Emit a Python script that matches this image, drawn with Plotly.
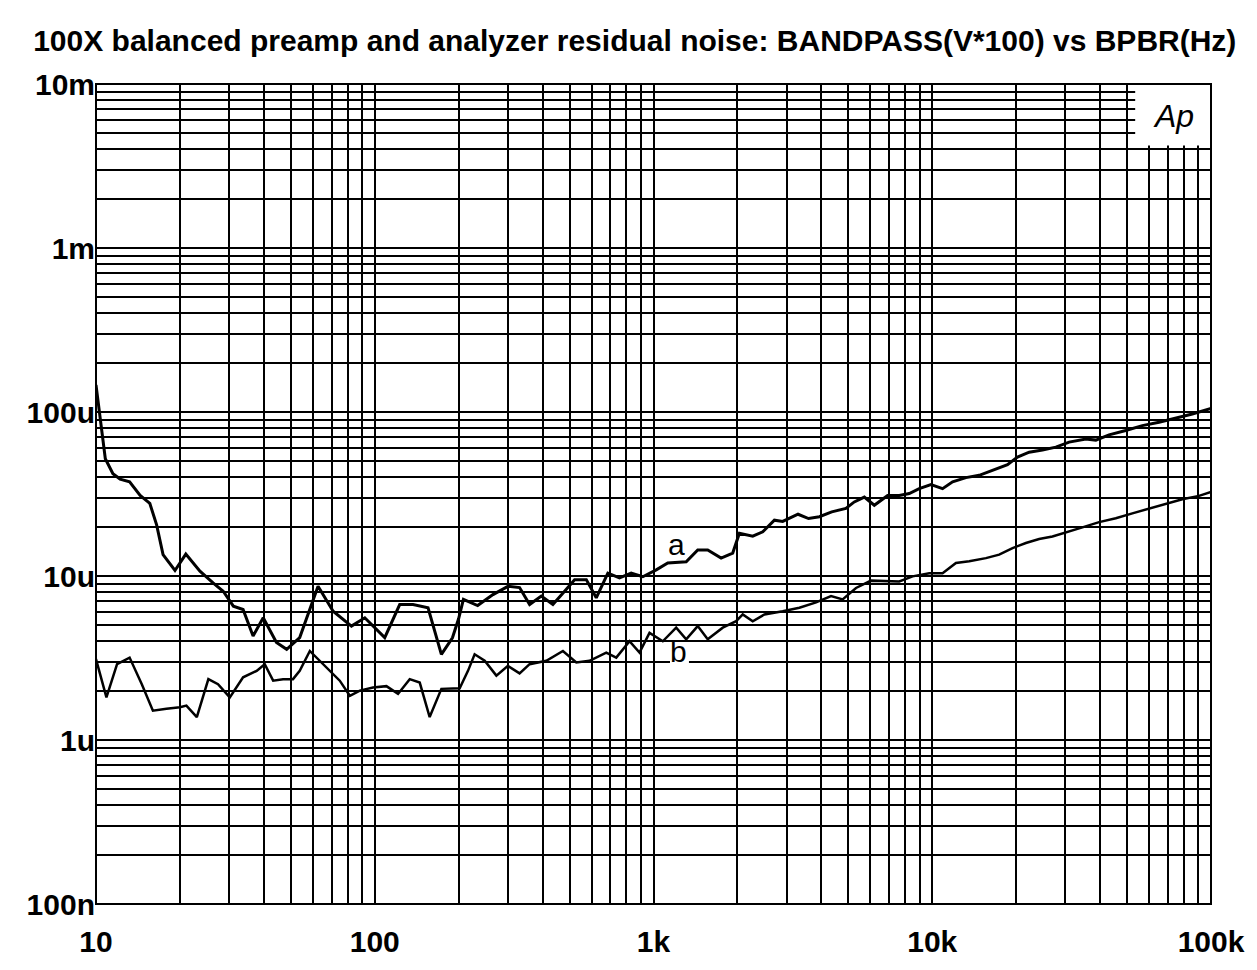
import plotly.graph_objects as go

# Curve a (Hz, V)
freq_a = [10, 10.3, 10.8, 11.5, 12.2, 13.2, 14.4, 15.6, 16.5, 17.4, 19.2, 21.0, 23.6, 26.3, 28.6,
          31.1, 33.7, 36.6, 39.8, 44.4, 48.3, 53.8, 62.6, 70.9, 82.5, 92.1, 108.6, 122.9, 137.2,
          155.3, 173.4, 190, 200, 208, 234, 265.5, 300.5, 330.8, 359.4, 395.8, 435.6, 479.8,
          521.2, 574.1, 623.2, 685.9, 755.2, 831.8, 915.5, 1023, 1125, 1310, 1441, 1565, 1748,
          1924, 2033, 2270, 2466, 2715, 2907, 3300, 3600, 3936, 4360, 4900, 5253, 5705, 6196,
          6916, 7614, 8271, 8982, 9893, 10890, 11830, 13210, 14740, 16450, 18620, 20220, 22270,
          24850, 27760, 30970, 35560, 38620, 43090, 49450, 56720, 65110, 74720, 85700, 100000]
val_a = [146e-6, 100e-6, 51.9e-6, 42e-6, 39e-6, 37.5e-6, 31e-6, 27.7e-6, 20.5e-6, 13.5e-6, 10.8e-6,
         13.6e-6, 10.7e-6, 9.07e-6, 8.07e-6, 6.55e-6, 6.25e-6, 4.31e-6, 5.56e-6, 3.93e-6, 3.57e-6,
         4.21e-6, 8.65e-6, 6.1e-6, 4.95e-6, 5.56e-6, 4.21e-6, 6.7e-6, 6.7e-6, 6.4e-6, 3.33e-6,
         4.2e-6, 5.5e-6, 7.2e-6, 6.6e-6, 7.7e-6, 8.65e-6, 8.5e-6, 6.7e-6, 7.54e-6, 6.7e-6, 8.07e-6,
         9.5e-6, 9.5e-6, 7.36e-6, 10.4e-6, 9.73e-6, 10.4e-6, 9.9e-6, 10.9e-6, 12.0e-6, 12.2e-6,
         14.4e-6, 14.4e-6, 12.85e-6, 13.8e-6, 18.2e-6, 17.5e-6, 18.6e-6, 21.9e-6, 21.5e-6, 23.8e-6,
         22.4e-6, 23.0e-6, 24.6e-6, 25.8e-6, 28.3e-6, 30.3e-6, 27.0e-6, 31.0e-6, 31.0e-6, 31.8e-6,
         34.1e-6, 36.1e-6, 34.1e-6, 37.5e-6, 39.8e-6, 41.1e-6, 44.1e-6, 47.7e-6, 53.1e-6, 56.9e-6,
         58.6e-6, 61.1e-6, 65.5e-6, 68.5e-6, 67.4e-6, 72.6e-6, 77.1e-6, 82.6e-6, 86.5e-6, 91.4e-6,
         97.2e-6, 105e-6]

# Curve b (Hz, V)
freq_b = [10, 10.9, 11.9, 13.2, 14.6, 16.0, 17.9, 20.0, 21.1, 23.0, 25.3, 27.4, 30.2, 33.7, 37.7,
          40.3, 43.2, 46.9, 50.9, 53.8, 58.5, 63.5, 69.0, 74.9, 81.4, 88.4, 98.6, 110.1, 121.2,
          133.5, 145.0, 157.4, 173.4, 201.7, 216, 228.2, 248, 273.1, 300.5, 330.8, 359.4, 412.6,
          473.2, 528.5, 589.7, 676.9, 735.2, 820.3, 890.9, 967.6, 1080, 1206, 1310, 1441, 1565,
          1772, 1979, 2090, 2270, 2500, 2907, 3337, 3830, 4335, 4770, 5327, 6030, 6826, 7614,
          8500, 9755, 10890, 12160, 13570, 15580, 17380, 19410, 21670, 24180, 26990, 30150,
          34570, 39680, 45550, 52230, 59960, 68810, 78900, 90600, 100000]
val_b = [3.11e-6, 1.82e-6, 2.9e-6, 3.18e-6, 2.19e-6, 1.51e-6, 1.55e-6, 1.585e-6, 1.62e-6, 1.38e-6,
         2.35e-6, 2.19e-6, 1.82e-6, 2.41e-6, 2.64e-6, 2.9e-6, 2.3e-6, 2.35e-6, 2.35e-6, 2.64e-6,
         3.49e-6, 3.04e-6, 2.64e-6, 2.3e-6, 1.86e-6, 2.0e-6, 2.09e-6, 2.13e-6, 1.91e-6, 2.35e-6,
         2.24e-6, 1.38e-6, 2.05e-6, 2.07e-6, 2.64e-6, 3.33e-6, 3.04e-6, 2.47e-6, 2.83e-6, 2.55e-6,
         2.9e-6, 3.04e-6, 3.49e-6, 2.97e-6, 3.04e-6, 3.41e-6, 3.18e-6, 4.0e-6, 3.41e-6, 4.5e-6,
         4.0e-6, 4.84e-6, 4.11e-6, 4.95e-6, 4.11e-6, 4.84e-6, 5.3e-6, 5.83e-6, 5.3e-6, 5.83e-6,
         6.1e-6, 6.4e-6, 6.9e-6, 7.54e-6, 7.2e-6, 8.45e-6, 9.37e-6, 9.27e-6, 9.27e-6, 9.95e-6,
         10.4e-6, 10.4e-6, 12.0e-6, 12.3e-6, 12.85e-6, 13.5e-6, 14.8e-6, 15.9e-6, 16.8e-6,
         17.4e-6, 18.5e-6, 19.8e-6, 21.3e-6, 22.5e-6, 24.1e-6, 25.8e-6, 27.7e-6, 29.4e-6,
         30.8e-6, 32.6e-6]

x_decades = [10, 100, 1000, 10000, 100000]
x_labels = ["10", "100", "1k", "10k", "100k"]
y_decades = [1e-7, 1e-6, 1e-5, 1e-4, 1e-3, 1e-2]
y_labels = ["100n", "1u", "10u", "100u", "1m", "10m"]
title_text = "100X balanced preamp and analyzer residual noise: BANDPASS(V*100) vs BPBR(Hz)"


def grid_ticks(decades, labels):
    vals, texts = [], []
    for i, d in enumerate(decades):
        if i == len(decades) - 1:
            vals.append(d)
            texts.append(labels[i])
            break
        for m in range(1, 10):
            vals.append(d * m)
            texts.append(labels[i] if m == 1 else "")
    return vals, texts


xv, xt = grid_ticks(x_decades, x_labels)
yv, yt = grid_ticks(y_decades, y_labels)

fig = go.Figure()
fig.add_trace(go.Scatter(x=freq_a, y=val_a, mode="lines", line=dict(color="black", width=3),
                         showlegend=False, name="a"))
fig.add_trace(go.Scatter(x=freq_b, y=val_b, mode="lines", line=dict(color="black", width=2.5),
                         showlegend=False, name="b"))

tickfont = dict(family="Liberation Sans, Arial, sans-serif", size=30, color="black", weight="bold")

fig.update_xaxes(type="log", range=[1, 5], tickvals=xv, ticktext=xt, showgrid=True,
                 gridcolor="black", gridwidth=2, showline=False, zeroline=False,
                 ticks="", tickfont=tickfont, ticklabelstandoff=17)
fig.update_yaxes(type="log", range=[-7, -2], tickvals=yv, ticktext=yt, showgrid=True,
                 gridcolor="black", gridwidth=2, showline=False, zeroline=False,
                 ticks="", tickfont=tickfont, ticklabelstandoff=0)

shapes = [
    # small white gap in the 3u grid line behind the "b" label
    dict(type="rect", xref="paper", yref="paper", x0=0.5148, x1=0.5318,
         y0=0.290, y1=0.3022, fillcolor="white", line=dict(width=0), layer="above"),
    # logo box in the top-right corner
    dict(type="rect", xref="paper", yref="paper", x0=0.932, x1=1.0, y0=0.925, y1=1.0,
         fillcolor="white", line=dict(width=0), layer="above"),
    # plot frame
    dict(type="rect", xref="paper", yref="paper", x0=0, x1=1, y0=0, y1=1,
         fillcolor="rgba(0,0,0,0)", line=dict(color="black", width=2), layer="above"),
]

label_font = dict(family="Liberation Sans, Arial, sans-serif", size=30, color="black")
annotations = [
    dict(text="a", xref="paper", yref="paper", x=0.521, y=0.4386, showarrow=False,
         xanchor="center", yanchor="middle", font=label_font),
    dict(text="b", xref="paper", yref="paper", x=0.5228, y=0.3074, showarrow=False,
         xanchor="center", yanchor="middle", font=label_font),
    dict(text="Ap", xref="paper", yref="paper", x=0.966, y=0.961, showarrow=False,
         xanchor="center", yanchor="middle",
         font=dict(family="Liberation Sans, Arial, sans-serif", size=32, color="black",
                   style="italic")),
]

fig.update_layout(
    width=1257, height=970,
    margin=dict(l=96, r=44, t=84, b=62),
    paper_bgcolor="white", plot_bgcolor="white",
    title=dict(text=title_text, x=0.505, xref="container", xanchor="center",
               y=1 - 40 / 970, yref="container", yanchor="middle",
               font=dict(family="Liberation Sans, Arial, sans-serif", size=30, color="black",
                         weight="bold")),
    shapes=shapes, annotations=annotations,
)

fig.write_html("out.html")
